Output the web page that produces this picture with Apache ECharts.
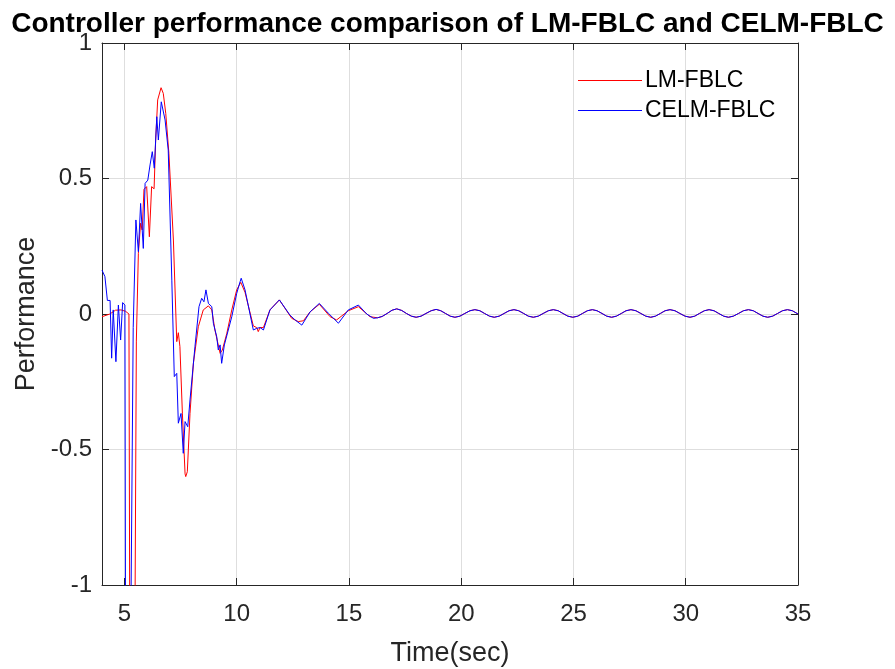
<!DOCTYPE html>
<html>
<head>
<meta charset="utf-8">
<script src="https://cdn.jsdelivr.net/npm/echarts@6/dist/echarts.min.js"></script>
<style>html,body{margin:0;padding:0;background:#fff;}#c{width:895px;height:669px;}</style>
</head>
<body>
<div id="c"></div>
<script>
const titleText = 'Controller performance comparison of LM-FBLC and CELM-FBLC';
const seriesNames = ['LM-FBLC', 'CELM-FBLC'];
const seriesColors = ['#ff0000', '#0000ff'];
const xTicks = [5, 10, 15, 20, 25, 30, 35];
const yTicks = [-1, -0.5, 0, 0.5, 1];

// LM-FBLC transient (time, performance)
const lmTransient = [
  [4.0,-0.01],[4.35,0.0],[4.6,0.014],[4.85,0.015],[5.05,0.01],[5.2,0.0],[5.25,-1.6],[5.44,-1.6],
  [5.53,-0.1],[5.62,0.224],[5.72,0.335],[5.79,0.31],[5.87,0.46],[5.99,0.47],[6.11,0.285],[6.21,0.47],
  [6.32,0.462],[6.39,0.642],[6.48,0.79],[6.63,0.835],[6.73,0.814],[6.84,0.74],[6.98,0.593],[7.18,0.273],
  [7.33,-0.102],[7.40,-0.069],[7.47,-0.12],[7.58,-0.366],[7.70,-0.59],[7.73,-0.6],[7.80,-0.582],[7.92,-0.367],
  [8.07,-0.182],[8.29,-0.047],[8.51,0.015],[8.74,0.03],[8.89,0.015],[9.03,-0.059],[9.26,-0.145],[9.36,-0.133],
  [9.56,-0.071],[9.78,0.015],[10.0,0.089],[10.18,0.117],[10.37,0.08],[10.74,-0.044],[10.89,-0.05],[10.96,-0.065],
  [11.04,-0.05],[11.19,-0.05],[11.48,0.015],[11.9,0.052],[12.45,-0.016],[12.74,-0.028],[12.97,-0.025],[13.27,0.008],
  [13.68,0.036],[14.16,-0.01],[14.45,-0.022],[14.97,0.012],[15.42,0.027],[15.94,-0.01]
];

// CELM-FBLC transient (time, performance)
const celmTransient = [
  [4.0,0.162],[4.13,0.138],[4.24,0.05],[4.36,0.05],[4.43,-0.163],[4.5,0.015],[4.62,-0.176],[4.73,0.033],
  [4.83,-0.096],[4.92,0.042],[5.02,0.033],[5.06,-1.6],[5.24,-1.6],[5.39,-0.05],[5.51,0.347],[5.62,0.23],
  [5.72,0.408],[5.84,0.242],[5.92,0.482],[6.04,0.494],[6.14,0.55],[6.24,0.599],[6.33,0.538],[6.44,0.728],
  [6.51,0.642],[6.64,0.783],[6.81,0.716],[6.95,0.605],[7.11,0.125],[7.22,-0.231],[7.33,-0.219],[7.40,-0.403],
  [7.52,-0.367],[7.62,-0.514],[7.70,-0.397],[7.82,-0.416],[7.92,-0.317],[8.14,-0.121],[8.32,0.027],[8.44,0.058],
  [8.54,0.045],[8.63,0.089],[8.74,0.039],[8.89,0.027],[8.96,-0.034],[9.11,-0.084],[9.18,-0.133],[9.26,-0.114],
  [9.33,-0.182],[9.45,-0.114],[9.52,-0.12],[9.78,-0.01],[10.0,0.076],[10.15,0.119],[10.2,0.132],[10.37,0.089],
  [10.74,-0.059],[10.89,-0.053],[11.04,-0.05],[11.19,-0.059],[11.48,0.015],[11.9,0.052],[12.37,-0.004],[12.6,-0.022],
  [12.9,-0.041],[13.27,0.008],[13.68,0.039],[14.08,0.003],[14.53,-0.034],[14.97,0.015],[15.42,0.033],[15.79,0.0],
  [16.09,-0.016]
];

// steady-state oscillation shared by both controllers (curves coincide)
const steadyTail = [
  [16.27,-0.014],[16.48,-0.009],[16.70,0.002],[16.92,0.014],[17.13,0.019],[17.35,0.013],[17.56,0.002],[17.78,-0.008],
  [17.99,-0.012],[18.21,-0.008],[18.43,0.002],[18.66,0.012],[18.88,0.017],[19.09,0.012],[19.30,0.002],[19.51,-0.008],
  [19.72,-0.012],[19.94,-0.008],[20.16,0.002],[20.39,0.012],[20.61,0.016],[20.83,0.012],[21.04,0.002],[21.26,-0.008],
  [21.47,-0.012],[21.69,-0.008],[21.91,0.002],[22.13,0.012],[22.35,0.016],[22.56,0.012],[22.78,0.002],[22.99,-0.008],
  [23.21,-0.012],[23.43,-0.008],[23.65,0.002],[23.88,0.012],[24.10,0.016],[24.32,0.012],[24.53,0.002],[24.75,-0.008],
  [24.97,-0.012],[25.19,-0.008],[25.40,0.002],[25.62,0.012],[25.84,0.016],[26.05,0.012],[26.27,0.002],[26.48,-0.008],
  [26.70,-0.012],[26.91,-0.008],[27.13,0.002],[27.34,0.012],[27.56,0.016],[27.78,0.012],[28.00,0.002],[28.22,-0.008],
  [28.44,-0.012],[28.65,-0.008],[28.87,0.002],[29.08,0.012],[29.30,0.016],[29.52,0.012],[29.74,0.002],[29.97,-0.008],
  [30.19,-0.012],[30.40,-0.008],[30.61,0.002],[30.83,0.012],[31.04,0.016],[31.26,0.012],[31.47,0.002],[31.69,-0.008],
  [31.90,-0.012],[32.12,-0.008],[32.35,0.002],[32.57,0.012],[32.79,0.016],[33.01,0.012],[33.22,0.002],[33.44,-0.008],
  [33.65,-0.012],[33.87,-0.008],[34.09,0.002],[34.31,0.012],[34.53,0.016],[34.75,0.012],[35.00,0.0]
];

const chart = echarts.init(document.getElementById('c'), null, {renderer: 'canvas'});
const axisColor = '#262626';
const gridColor = '#dedede';
const fontFam = '"Liberation Sans", Arial, Helvetica, sans-serif';

const baseX = {
  type: 'value', min: 4, max: 35,
  axisLine: {show: true, onZero: false, lineStyle: {color: axisColor, width: 1}},
  axisTick: {show: true, inside: true, length: 7, lineStyle: {color: axisColor}, customValues: xTicks},
  splitLine: {show: false},
  axisLabel: {show: false}
};
const baseY = {
  type: 'value', min: -1, max: 1, interval: 0.5,
  axisLine: {show: true, onZero: false, lineStyle: {color: axisColor, width: 1}},
  axisTick: {show: true, inside: true, length: 7, lineStyle: {color: axisColor}},
  splitLine: {show: false},
  axisLabel: {show: false}
};

chart.setOption({
  animation: false,
  backgroundColor: '#ffffff',
  color: seriesColors,
  title: {
    text: titleText, left: 'center', top: 5,
    textStyle: {fontFamily: fontFam, fontSize: 28, fontWeight: 'bold', color: '#000'}
  },
  legend: {
    data: seriesNames.map((n, i) => ({
      name: n,
      itemStyle: {color: seriesColors[i], borderColor: seriesColors[i], borderWidth: 0}
    })),
    orient: 'vertical', left: 573, top: 64,
    itemWidth: 64, itemHeight: 14, itemGap: 7,
    itemStyle: {borderWidth: 0},
    textStyle: {fontFamily: fontFam, fontSize: 23, color: '#000', padding: [0,0,0,-2]},
    icon: 'path://M0,6.5 L64,6.5 L64,7.5 L0,7.5 Z'
  },
  grid: {left: 102, top: 43, right: 97, bottom: 84, containLabel: false, outerBoundsMode: 'none'},
  xAxis: [
    Object.assign({}, baseX, {
      position: 'bottom',
      axisTick: {show: true, inside: true, length: 7, lineStyle: {color: axisColor}, customValues: xTicks},
      axisLabel: {show: true, customValues: xTicks, color: axisColor, fontFamily: fontFam, fontSize: 24, margin: 17},
      splitLine: {show: true, lineStyle: {color: gridColor, width: 1}},
      name: 'Time(sec)', nameLocation: 'middle', nameGap: 55,
      nameTextStyle: {fontFamily: fontFam, fontSize: 27, color: axisColor}
    }),
    Object.assign({}, baseX, {position: 'top'})
  ],
  yAxis: [
    Object.assign({}, baseY, {
      position: 'left',
      axisLabel: {show: true, color: axisColor, fontFamily: fontFam, fontSize: 24, margin: 10,
        formatter: v => String(v)},
      splitLine: {show: true, lineStyle: {color: gridColor, width: 1}},
      name: 'Performance', nameLocation: 'middle', nameGap: 60,
      nameTextStyle: {fontFamily: fontFam, fontSize: 27, color: axisColor}
    }),
    Object.assign({}, baseY, {position: 'right'})
  ],
  series: [
    {
      name: seriesNames[0], type: 'line', xAxisIndex: 0, yAxisIndex: 0,
      data: lmTransient.concat(steadyTail), symbol: 'none', clip: true,
      lineStyle: {color: seriesColors[0], width: 1}, itemStyle: {color: seriesColors[0]}, z: 2
    },
    {
      name: seriesNames[1], type: 'line', xAxisIndex: 0, yAxisIndex: 0,
      data: celmTransient.concat(steadyTail), symbol: 'none', clip: true,
      lineStyle: {color: seriesColors[1], width: 1}, itemStyle: {color: seriesColors[1]}, z: 3
    }
  ]
});
</script>
</body>
</html>
